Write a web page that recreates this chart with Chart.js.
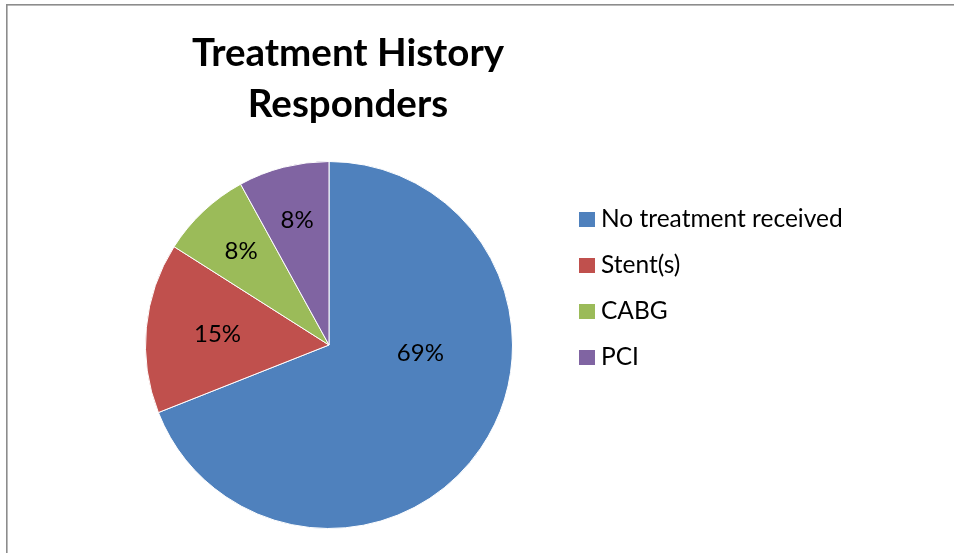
<!DOCTYPE html>
<html>
<head>
<meta charset="utf-8">
<script src="https://cdn.jsdelivr.net/npm/chart.js@4/dist/chart.umd.min.js"></script>
<style>
  html, body { margin: 0; padding: 0; background: #fff; }
  #wrap { width: 954px; height: 553px; }
</style>
</head>
<body>
<div id="wrap"><canvas id="pie" width="954" height="553"></canvas></div>
<script>
/* ===== data ===== */
const titleLines = ['Treatment History', 'Responders'];
const categories = ['No treatment received', 'Stent(s)', 'CABG', 'PCI'];
const values     = [69, 15, 8, 8];
const colours    = ['#4F81BD', '#C0504D', '#9BBB59', '#8064A2'];

/* where each % label sits: fraction of radius, angle shift (deg) from slice middle */
const labelFrac  = [0.5, 0.61, 0.70, 0.70];
const labelShift = [-29, 0, 0, 0];

/* ===== frame, title, legend, slice labels ===== */
const decor = {
  id: 'decor',
  beforeDraw (chart) {
    const c = chart.ctx;
    c.save();
    c.fillStyle = '#fff';
    c.fillRect(0, 0, chart.width, chart.height);
    c.strokeStyle = '#8c8c8c';
    c.lineWidth = 1.6;
    c.strokeRect(6.8, 4.8, chart.width + 20, chart.height + 20);
    c.restore();
  },
  afterDraw (chart) {
    const c = chart.ctx;
    c.save();
    c.fillStyle = '#000';

    // title
    c.font = 'bold 38.5px Lato';
    c.textAlign = 'center';
    c.textBaseline = 'alphabetic';
    titleLines.forEach((t, i) => c.fillText(t, 348, 66 + i * 51));

    // legend
    c.font = '24.5px Lato';
    c.textAlign = 'left';
    categories.forEach((name, i) => {
      const y = 219.5 + i * 46;
      c.fillStyle = colours[i];
      c.fillRect(579, y - 7.5, 16, 15);
      c.fillStyle = '#000';
      c.fillText(name, 601, y + 7);
    });

    // percentage labels
    const total = values.reduce((a, b) => a + b, 0);
    c.textAlign = 'center';
    c.textBaseline = 'middle';
    c.font = '24px Lato';
    chart.getDatasetMeta(0).data.forEach((arc, i) => {
      const p = arc.getProps(['x', 'y', 'startAngle', 'endAngle', 'outerRadius'], true);
      const mid = (p.startAngle + p.endAngle) / 2 + labelShift[i] * Math.PI / 180;
      const r = p.outerRadius * labelFrac[i];
      const pct = Math.round(values[i] / total * 100) + '%';
      c.fillText(pct, p.x + Math.cos(mid) * r, p.y + Math.sin(mid) * r);
    });
    c.restore();
  }
};

new Chart(document.getElementById('pie'), {
  type: 'pie',
  data: {
    labels: categories,
    datasets: [{
      data: values,
      backgroundColor: colours,
      borderColor: '#ffffff',
      borderWidth: 1
    }]
  },
  options: {
    responsive: false,
    animation: false,
    layout: { padding: { left: 145, right: 441, top: 161, bottom: 24 } },
    plugins: {
      legend: { display: false },
      title: { display: false },
      tooltip: { enabled: false }
    }
  },
  plugins: [decor]
});
</script>
</body>
</html>
